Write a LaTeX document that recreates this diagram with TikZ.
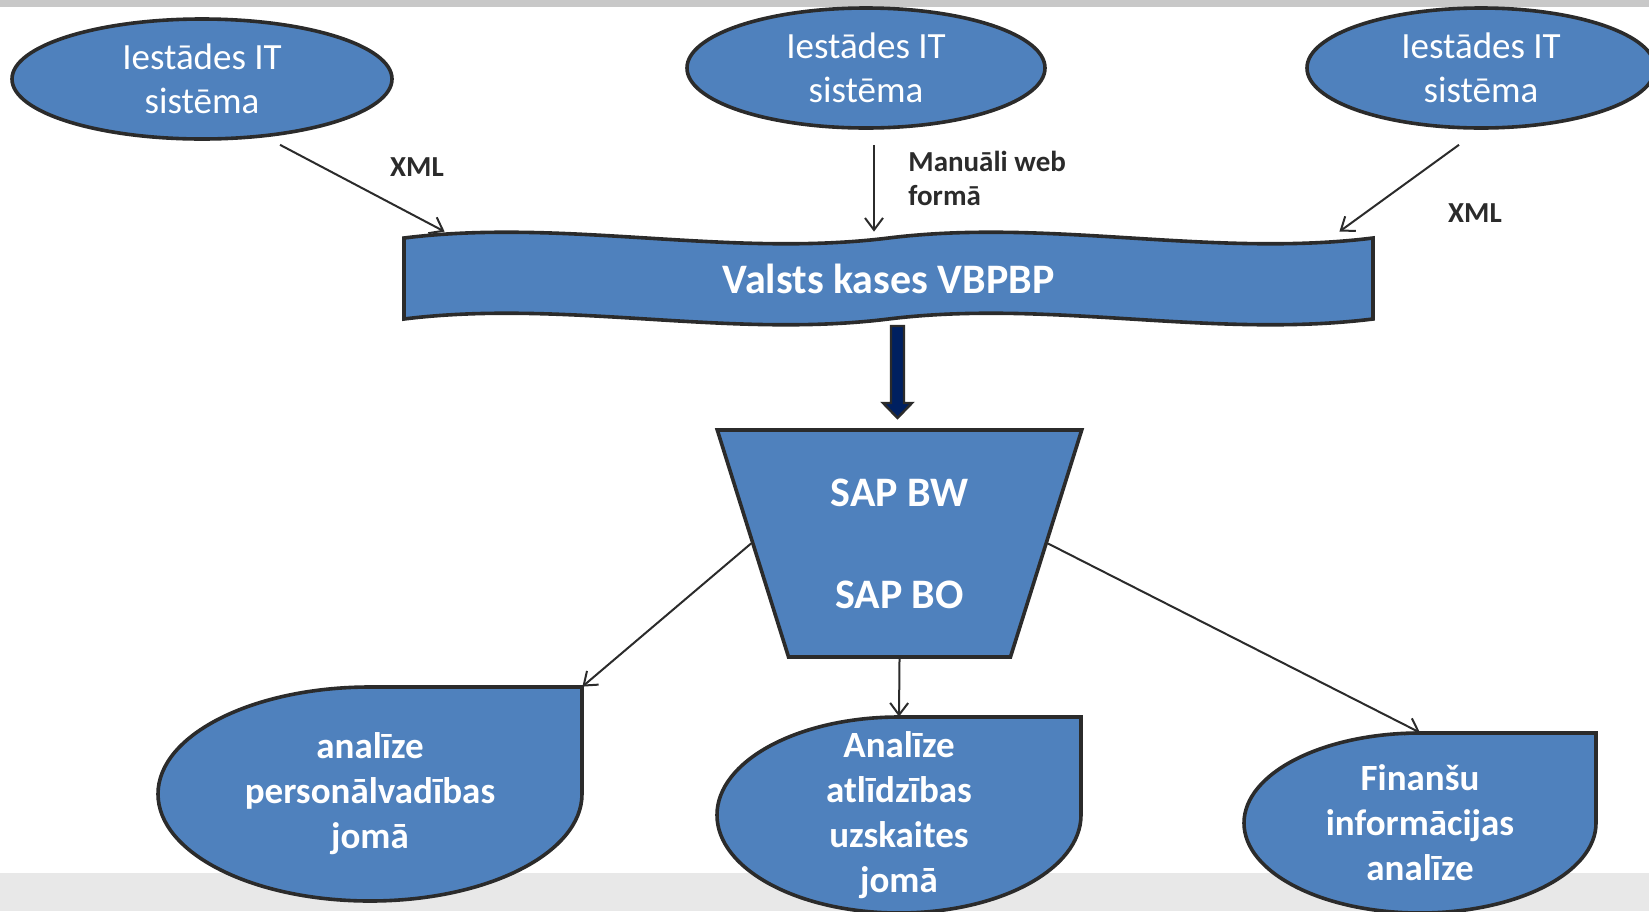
\documentclass[tikz,border=0pt]{standalone}
\usepackage{fontspec}
\setmainfont{Carlito}
\usetikzlibrary{shapes.geometric,arrows.meta}
\definecolor{boxblue}{HTML}{4F81BD}
\definecolor{linegray}{HTML}{2B2B2B}
\definecolor{navyfill}{HTML}{002060}
\definecolor{topgray}{HTML}{C8C8C8}
\definecolor{footgray}{HTML}{E8E8E8}
\tikzset{
  >={Straight Barb[length=6pt,width=9pt]},
}
\tikzstyle{shp}=[fill=boxblue,draw=linegray,line width=1.8pt]
\tikzstyle{sys}=[shp,ellipse,inner sep=0pt,minimum height=60pt,text=white,align=center,font=\fontsize{18.5}{22}\selectfont]
\tikzstyle{lbl}=[text=linegray,align=left,inner sep=0pt,font=\bfseries\fontsize{14.5}{17}\selectfont]
\tikzstyle{res}=[text=white,align=center,inner sep=0pt,font=\bfseries\fontsize{18.5}{22.5}\selectfont]
\tikzstyle{link}=[linegray,line width=1pt,->]
\newcommand{\drop}[4]{\filldraw[shp] (#1,#2-#4) -- (#1+#3,#2-#4) -- (#1+#3,#2)
  arc[start angle=0,end angle=-270,x radius={#3*0.5pt},y radius={#4*0.5pt}] -- cycle;}

\begin{document}
\begin{tikzpicture}[x=0.5pt,y=-0.5pt]
    \useasboundingbox (0,0) rectangle (1649,911);
    \fill[topgray] (0,0) rectangle (1649,7);
    \fill[footgray] (0,873) rectangle (1649,911);

    \node[sys,minimum width=190pt] (sys1) at (202,79) {Iestādes IT\\sistēma};
    \node[sys,minimum width=179pt] (sys2) at (866,68) {Iestādes IT\\sistēma};
    \node[sys,minimum width=174pt] (sys3) at (1481,68) {Iestādes IT\\sistēma};

    \filldraw[shp] (404,238) .. controls (565.5,218) and (727,258) .. (888.5,238)
      .. controls (1050,218) and (1211.5,258) .. (1373,238) -- (1373,319)
      .. controls (1211.5,339) and (1050,299) .. (888.5,319)
      .. controls (727,339) and (565.5,299) .. (404,319) -- cycle;
    \node[minimum width=484.5pt,minimum height=47pt,inner sep=0pt,text=white,font=\bfseries\fontsize{21}{25}\selectfont] (vbpbp) at (888.5,279) {Valsts kases VBPBP};

    \draw[link] ([xshift=39pt,yshift=-2pt]sys1.south) -- ([xshift=20.5pt]vbpbp.north west);
    \draw[link] ([xshift=4pt,yshift=-7.5pt]sys2.south) -- ([xshift=-7.25pt]vbpbp.north);
    \draw[link] ([xshift=-11pt,yshift=-7.5pt]sys3.south) -- ([xshift=-17pt]vbpbp.north east);
    \node[lbl] (xml1) at (417,167) {XML};
    \node[lbl,anchor=west] (web) at (908,178) {Manuāli web\\formā};
    \node[lbl] (xml2) at (1475,213) {XML};

    \filldraw[fill=navyfill,draw=linegray,line width=1.2pt] (891,326) -- (904,326) -- (904,403)
      -- (912,403) -- (897.5,418) -- (883,403) -- (891,403) -- cycle;

    \node[shp,trapezium,trapezium left angle=71.2,trapezium right angle=71.2,shape border rotate=180,
      trapezium stretches=true,minimum width=182.5pt,minimum height=113.5pt,inner sep=0pt,
      text=white,align=center,font=\bfseries\fontsize{21}{51}\selectfont] (sap) at (899.5,543.5) {SAP BW\\SAP BO};

    \drop{370}{794}{212}{107}
    \node[res,minimum width=212pt,minimum height=107pt] (pers) at (370,794) {analīze\\personālvadības\\jomā};
    \drop{899}{815}{182}{98}
    \node[res,minimum width=182pt,minimum height=98pt] (atl) at (899,815) {Analīze\\atlīdzības\\uzskaites\\jomā};
    \drop{1420}{823}{176}{90}
    \node[res,minimum width=176pt,minimum height=90pt] (fin) at (1420,823) {Finanšu\\informācijas\\analīze};

    \draw[link] (sap.west) -- (pers.north east);
    \draw[link] (sap.south) -- (atl.north);
    \draw[link] (sap.east) -- (fin.north);
\end{tikzpicture}
\end{document}
